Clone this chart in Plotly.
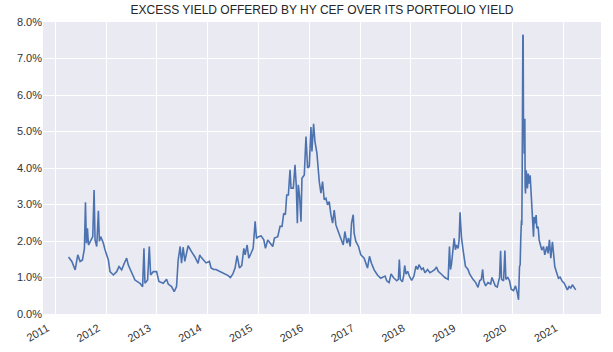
import plotly.graph_objects as go
import pandas as pd

# decimal-year positions of readings and excess-yield values (%)
years = [
 2011.261, 2011.327, 2011.392, 2011.444, 2011.490, 2011.536, 2011.575, 2011.595, 2011.614, 2011.634,
 2011.654, 2011.706, 2011.739, 2011.765, 2011.784, 2011.817, 2011.850, 2011.869, 2011.895, 2011.948,
 2011.980, 2012.046, 2012.078, 2012.144, 2012.209, 2012.255, 2012.307, 2012.359, 2012.405, 2012.438,
 2012.490, 2012.569, 2012.667, 2012.719, 2012.745, 2012.765, 2012.817, 2012.850, 2012.876, 2012.928,
 2012.993, 2013.039, 2013.124, 2013.190, 2013.222, 2013.288, 2013.340, 2013.386, 2013.418, 2013.458,
 2013.484, 2013.516, 2013.549, 2013.614, 2013.680, 2013.745, 2013.810, 2013.843, 2013.855, 2013.921,
 2013.967, 2014.033, 2014.066, 2014.118, 2014.164, 2014.230, 2014.329, 2014.395, 2014.447, 2014.493,
 2014.539, 2014.579, 2014.625, 2014.671, 2014.711, 2014.737, 2014.776, 2014.809, 2014.855, 2014.895,
 2014.934, 2014.961, 2015.000, 2015.052, 2015.105, 2015.137, 2015.183, 2015.235, 2015.281, 2015.314,
 2015.379, 2015.425, 2015.464, 2015.497, 2015.529, 2015.556, 2015.588, 2015.621, 2015.641, 2015.686,
 2015.719, 2015.745, 2015.765, 2015.784, 2015.810, 2015.837, 2015.856, 2015.902, 2015.935, 2015.967,
 2016.000, 2016.033, 2016.052, 2016.085, 2016.111, 2016.150, 2016.176, 2016.196, 2016.229, 2016.261,
 2016.294, 2016.327, 2016.359, 2016.392, 2016.425, 2016.458, 2016.490, 2016.523, 2016.569, 2016.621,
 2016.667, 2016.699, 2016.739, 2016.771, 2016.804, 2016.830, 2016.863, 2016.882, 2016.915, 2016.967,
 2017.013, 2017.078, 2017.144, 2017.183, 2017.222, 2017.275, 2017.340, 2017.405, 2017.490, 2017.523,
 2017.569, 2017.608, 2017.654, 2017.719, 2017.752, 2017.771, 2017.791, 2017.830, 2017.856, 2017.876,
 2017.902, 2017.935, 2017.967, 2018.013, 2018.059, 2018.098, 2018.131, 2018.157, 2018.209, 2018.242,
 2018.275, 2018.327, 2018.373, 2018.418, 2018.471, 2018.503, 2018.536, 2018.601, 2018.667, 2018.732,
 2018.758, 2018.778, 2018.797, 2018.830, 2018.850, 2018.876, 2018.895, 2018.928, 2018.948, 2018.967,
 2018.993, 2019.026, 2019.072, 2019.124, 2019.157, 2019.222, 2019.275, 2019.320, 2019.353, 2019.386,
 2019.412, 2019.431, 2019.471, 2019.516, 2019.569, 2019.595, 2019.627, 2019.660, 2019.699, 2019.745,
 2019.765, 2019.784, 2019.824, 2019.850, 2019.869, 2019.908, 2019.941, 2019.974, 2020.020, 2020.059,
 2020.092, 2020.118, 2020.137, 2020.150, 2020.163, 2020.176, 2020.183, 2020.190, 2020.196, 2020.203,
 2020.209, 2020.216, 2020.222, 2020.229, 2020.242, 2020.248, 2020.255, 2020.268, 2020.281, 2020.294,
 2020.307, 2020.327, 2020.346, 2020.359, 2020.379, 2020.399, 2020.412, 2020.425, 2020.444, 2020.464,
 2020.477, 2020.503, 2020.523, 2020.556, 2020.575, 2020.608, 2020.634, 2020.673, 2020.699, 2020.725,
 2020.752, 2020.784, 2020.804, 2020.830, 2020.869, 2020.902, 2020.935, 2020.980, 2021.013, 2021.046,
 2021.078, 2021.111, 2021.144, 2021.176, 2021.196, 2021.222, 2021.242,
]
excess_yield = [
 1.56, 1.44, 1.21, 1.62, 1.44, 1.48, 1.80, 3.06, 1.94, 2.35,
 1.89, 2.03, 2.12, 3.40, 2.03, 1.85, 2.83, 1.99, 2.12, 1.94,
 1.76, 1.48, 1.16, 1.07, 1.16, 1.30, 1.21, 1.39, 1.53, 1.34,
 1.16, 0.93, 0.84, 0.75, 1.80, 0.84, 0.93, 1.85, 1.07, 1.16,
 1.16, 0.89, 0.84, 0.95, 0.82, 0.75, 0.61, 0.75, 1.48, 1.85,
 1.39, 1.83, 1.44, 1.87, 1.71, 1.57, 1.39, 1.62, 1.58, 1.49,
 1.40, 1.44, 1.26, 1.22, 1.22, 1.17, 1.11, 1.06, 1.00, 1.09,
 1.26, 1.60, 1.26, 1.33, 1.80, 1.62, 1.89, 1.53, 1.67, 1.80,
 2.54, 2.07, 2.12, 2.14, 2.03, 1.80, 2.03, 1.94, 1.85, 2.08,
 2.12, 2.40, 2.40, 2.76, 2.72, 3.26, 3.26, 3.95, 3.45, 3.45,
 4.09, 3.49, 2.49, 3.54, 3.22, 2.53, 3.72, 3.81, 4.86, 4.00,
 4.04, 5.12, 4.45, 5.21, 4.73, 4.41, 3.90, 3.63, 3.31, 3.63,
 3.13, 3.17, 2.99, 3.08, 2.72, 2.49, 2.85, 2.44, 2.26, 2.03,
 1.89, 2.26, 1.94, 2.08, 1.85, 2.49, 2.72, 2.21, 1.99, 1.85,
 1.62, 1.53, 1.26, 1.58, 1.39, 1.21, 1.07, 0.98, 1.04, 0.91,
 0.86, 1.10, 1.00, 0.91, 0.95, 1.49, 0.95, 0.88, 1.04, 1.33,
 1.09, 1.17, 1.04, 0.92, 1.04, 1.31, 1.22, 1.35, 1.22, 1.26,
 1.13, 1.22, 1.13, 1.17, 1.22, 1.29, 1.17, 1.09, 1.00, 0.95,
 1.85, 1.22, 1.35, 1.80, 2.07, 1.76, 1.89, 1.80, 2.03, 2.79,
 2.12, 1.76, 1.31, 1.22, 1.09, 0.95, 0.86, 0.73, 0.91, 0.95,
 1.22, 0.91, 0.77, 0.86, 0.82, 1.00, 0.86, 0.77, 0.74, 1.01,
 1.73, 0.95, 0.91, 1.74, 0.95, 1.00, 0.91, 0.68, 0.64, 0.77,
 0.59, 0.39, 1.30, 1.35, 2.12, 2.57, 2.44, 3.94, 7.30, 7.65,
 7.62, 4.85, 5.30, 4.39, 5.35, 3.48, 3.30, 3.94, 3.75, 3.44,
 3.85, 3.57, 3.80, 3.48, 3.03, 2.75, 2.12, 2.66, 2.48, 2.71,
 2.35, 2.39, 2.03, 1.85, 1.75, 1.85, 1.62, 1.85, 1.66, 2.03,
 1.53, 1.98, 1.66, 1.30, 1.12, 0.98, 1.01, 0.89, 0.85, 0.75,
 0.66, 0.75, 0.71, 0.80, 0.75, 0.68, 0.66,
]
year_ticks = list(range(2011, 2022))
y_ticks = [0, 1, 2, 3, 4, 5, 6, 7, 8]


def to_date(y):
    yr = int(y)
    start = pd.Timestamp(yr, 1, 1)
    end = pd.Timestamp(yr + 1, 1, 1)
    return start + (end - start) * (y - yr)


dates = [to_date(y) for y in years]

fig = go.Figure()
fig.add_trace(go.Scatter(
    x=dates, y=excess_yield, mode="lines",
    line=dict(color="#4C72B0", width=1.6),
    showlegend=False,
))

fig.update_layout(
    width=613, height=352,
    margin=dict(l=43, r=12, t=22, b=38),
    paper_bgcolor="white",
    plot_bgcolor="#EAEAF2",
    font=dict(family="Liberation Sans, Arial, sans-serif", size=11, color="#262626"),
    title=dict(
        text="EXCESS YIELD OFFERED BY HY CEF OVER ITS PORTFOLIO YIELD",
        x=0.5, xref="paper", xanchor="center",
        y=1, yref="container", yanchor="top", pad=dict(t=6),
        font=dict(size=12, color="#262626"),
    ),
)
fig.update_xaxes(
    type="date",
    range=["2010-10-05", "2021-09-28"],
    tickvals=[pd.Timestamp(y, 1, 1) for y in year_ticks],
    ticktext=[str(y) for y in year_ticks],
    tickangle=-30,
    ticklabelshift=-8,
    ticklabelstandoff=5,
    automargin=False,
    showgrid=True, gridcolor="white", gridwidth=1,
    zeroline=False, showline=False, ticks="",
    tickfont=dict(size=11, color="#333333"),
)
fig.update_yaxes(
    range=[0, 8],
    tickvals=y_ticks,
    ticktext=[f"{v:.1f}%" for v in y_ticks],
    automargin=False,
    showgrid=True, gridcolor="white", gridwidth=1,
    zeroline=False, showline=False, ticks="",
    tickfont=dict(size=11, color="#333333"),
)

fig.write_html("out.html")
